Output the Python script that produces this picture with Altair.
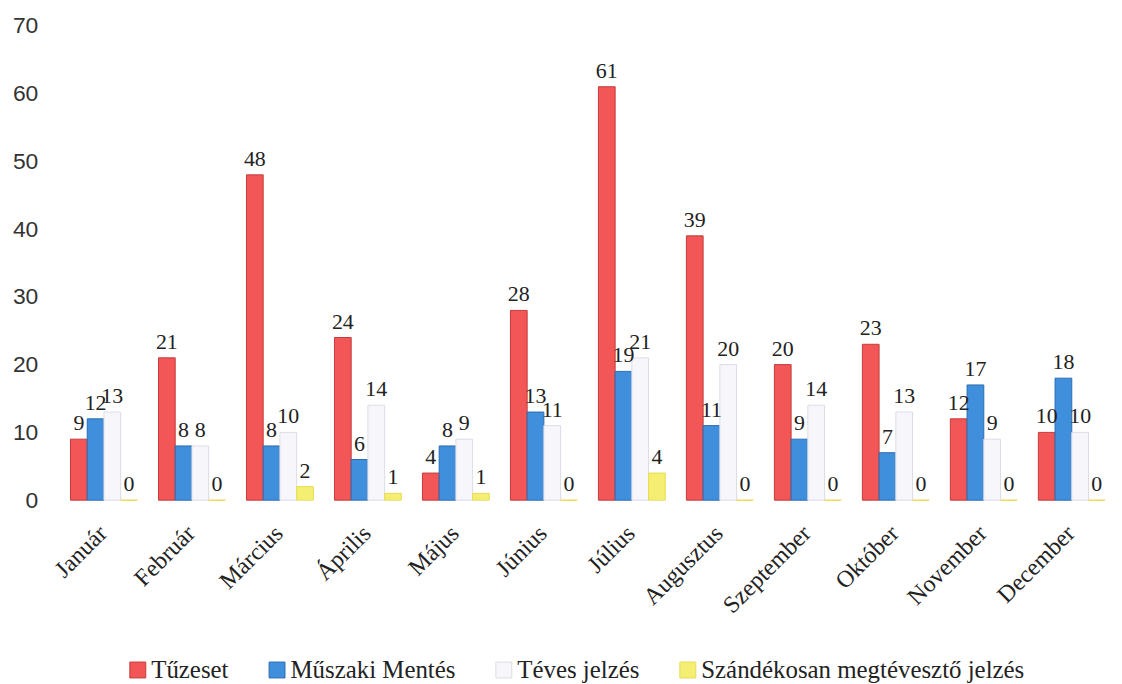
import altair as alt
import pandas as pd

months = ["Január", "Február", "Március", "Április", "Május", "Június",
          "Július", "Augusztus", "Szeptember", "Október", "November", "December"]
series = ["Tűzeset", "Műszaki Mentés", "Téves jelzés", "Szándékosan megtévesztő jelzés"]
tuzeset = [9, 21, 48, 24, 4, 28, 61, 39, 20, 23, 12, 10]
muszaki = [12, 8, 8, 6, 8, 13, 19, 11, 9, 7, 17, 18]
teves = [13, 8, 10, 14, 9, 11, 21, 20, 14, 13, 9, 10]
szandekos = [0, 0, 2, 1, 1, 0, 4, 0, 0, 0, 0, 0]

colors = ["#f25656", "#3f8fdc", "#f6f6fb", "#f4ee72"]
strokes = ["#c53a3a", "#2b6cb0", "#dcdce8", "#e8dc50"]

rows = []
for vals, s in zip([tuzeset, muszaki, teves, szandekos], series):
    for m, v in zip(months, vals):
        rows.append({"Hónap": m, "Sorozat": s, "Érték": v})
df = pd.DataFrame(rows)

SERIF = "Liberation Serif"
SANS = "Liberation Sans"

base = alt.Chart(df).encode(
    x=alt.X("Hónap:N", sort=months, title=None,
            scale=alt.Scale(paddingInner=0.24, paddingOuter=0.1),
            axis=alt.Axis(labelAngle=-45, labelFontSize=24, labelFont=SERIF,
                          labelColor="#222", domain=False, ticks=False,
                          labelPadding=21, labelOffset=-9)),
    xOffset=alt.XOffset("Sorozat:N", sort=series),
    y=alt.Y("Érték:Q", title=None,
            scale=alt.Scale(domain=[0, 70]),
            axis=alt.Axis(values=list(range(0, 71, 10)), labelFontSize=23, labelFont=SANS,
                          labelColor="#333", domain=False, ticks=False, grid=False,
                          labelPadding=24)),
)

bars = base.mark_bar(strokeWidth=1).encode(
    color=alt.Color("Sorozat:N", sort=series,
                    scale=alt.Scale(domain=series, range=colors),
                    legend=alt.Legend(orient="none", legendX=64, legendY=635,
                                      direction="horizontal", title=None,
                                      symbolType="square", symbolSize=256,
                                      symbolStrokeWidth=1, labelFontSize=25, labelFont=SERIF,
                                      labelColor="#222", columnPadding=36,
                                      labelLimit=0, labelOffset=1)),
    stroke=alt.Stroke("Sorozat:N", sort=series,
                      scale=alt.Scale(domain=series, range=strokes), legend=None),
)

labels = base.mark_text(dy=-16, fontSize=22, font=SERIF, color="#222").encode(
    text="Érték:Q"
)

chart = (bars + labels).properties(
    width=1058, height=477,
    background="white",
    padding={"top": 5, "left": 4, "right": 0, "bottom": 0},
).configure_view(stroke=None).configure_axis(grid=False)

chart.save("out.html", embed_options={"renderer": "svg", "actions": False})
